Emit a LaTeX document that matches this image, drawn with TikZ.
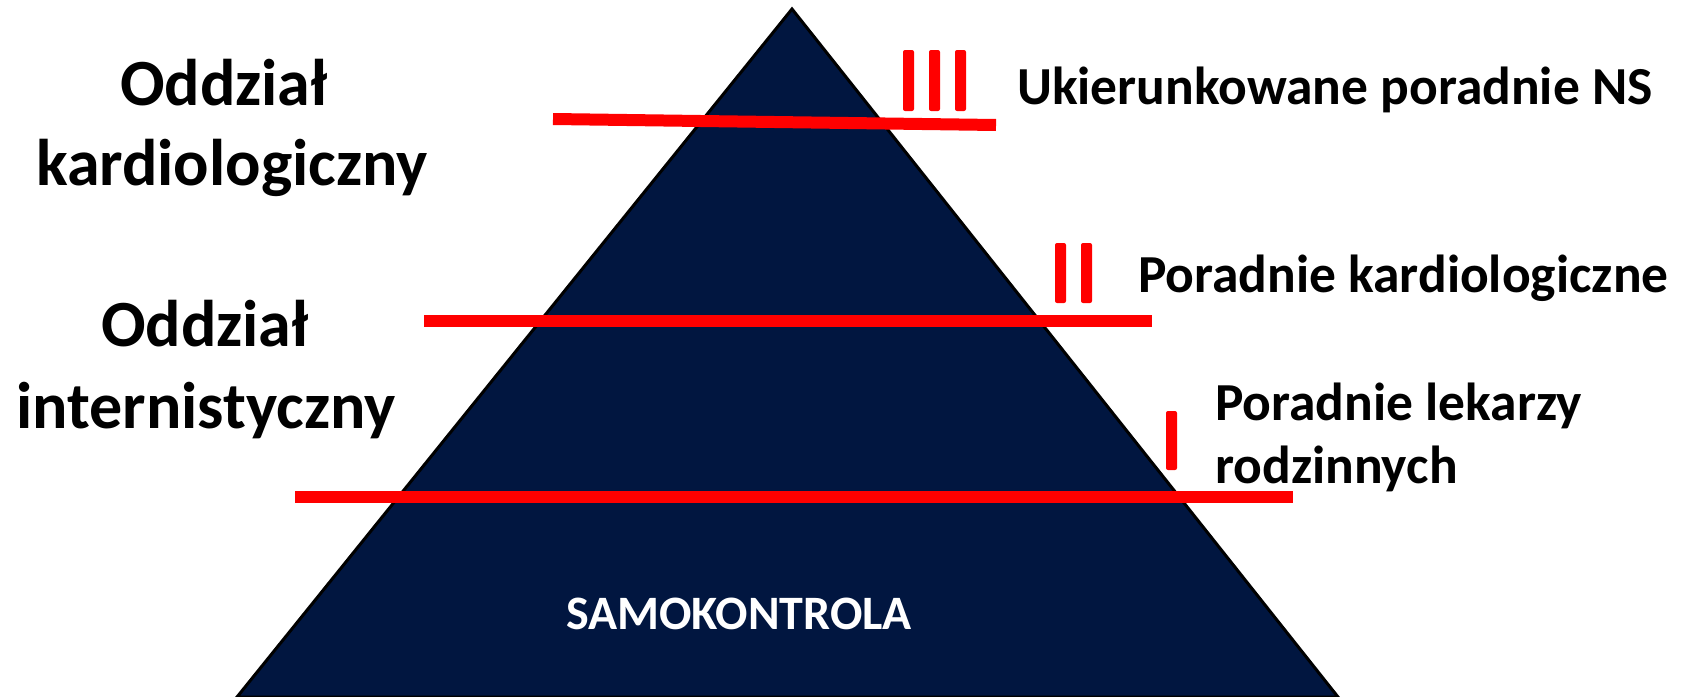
\documentclass[tikz,border=0pt]{standalone}
\usepackage{fontspec}
\setmainfont{Carlito}
\definecolor{navy}{RGB}{1,22,64}
\definecolor{pred}{RGB}{255,0,0}
\tikzset{
  redline/.style={draw=pred, line width=12pt},
  bar/.style={fill=pred, rounded corners=2pt},
  lefttxt/.style={anchor=base, inner sep=0pt, font=\bfseries\fontsize{66}{80}\selectfont},
  righttxt/.style={anchor=base west, inner sep=0pt, font=\bfseries\fontsize{53.5}{64}\selectfont},
}
\begin{document}
\begin{tikzpicture}[x=1pt,y=-1pt]
\useasboundingbox (0,0) rectangle (1685,696);
% pyramid
\coordinate (apex) at (792,9);
\coordinate (bl) at (237,697);
\coordinate (br) at (1338,697);
\draw[fill=navy, draw=black, line width=3pt, line join=miter] (apex) -- (br) -- (bl) -- cycle;
% red lines
\coordinate (l1a) at (553,119);
\coordinate (l1b) at (996,125);
\coordinate (l2a) at (424,320.5);
\coordinate (l2b) at (1152,320.5);
\coordinate (l3a) at (295,496.5);
\coordinate (l3b) at (1293,496.5);
\draw[redline] (l1a) -- (l1b);
\draw[redline] (l2a) -- (l2b);
\draw[redline] (l3a) -- (l3b);
% bars
\path[bar] (903,50) rectangle (914,111);
\path[bar] (929,50) rectangle (940,111);
\path[bar] (955,50) rectangle (966,111);
\path[bar] (1055,243) rectangle (1066,303);
\path[bar] (1081,243) rectangle (1092,303);
\path[bar] (1166,411) rectangle (1177,470);
% left texts
\node[lefttxt] (o1) at (224,105) {Oddział};
\node[lefttxt] (k1) at (232,185) {kardiologiczny};
\node[lefttxt] (o2) at (205,346) {Oddział};
\node[lefttxt] (i2) at (206,428) {internistyczny};
% right texts
\node[righttxt] (u) at (1017,104) {Ukierunkowane poradnie NS};
\node[righttxt] (pk) at (1138,292) {Poradnie kardiologiczne};
\node[righttxt] (pl) at (1215,420) {Poradnie lekarzy};
\node[righttxt] (rd) at (1215,483) {rodzinnych};
% bottom
\node[anchor=base, inner sep=0pt, text=white, font=\bfseries\fontsize{48}{58}\selectfont] (s) at (739,629) {SAMOKONTROLA};
\end{tikzpicture}
\end{document}
